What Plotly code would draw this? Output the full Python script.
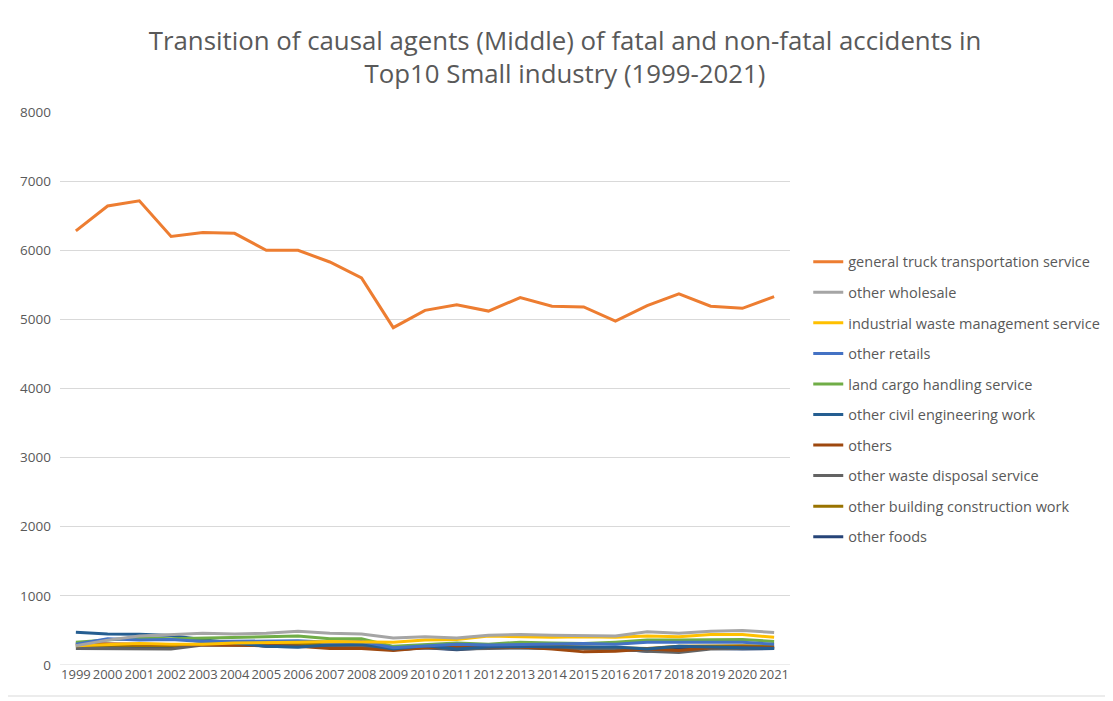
import plotly.graph_objects as go

years = list(range(1999, 2022))

general_truck = [6280, 6640, 6715, 6200, 6255, 6245, 6000, 6000, 5830, 5600, 4880, 5130,
                 5210, 5120, 5315, 5190, 5180, 4975, 5200, 5370, 5190, 5160, 5330]
other_wholesale = [280, 360, 420, 440, 460, 450, 460, 490, 460, 450, 390, 410,
                   390, 430, 440, 430, 430, 420, 480, 460, 490, 500, 470]
industrial_waste = [280, 300, 310, 300, 300, 320, 320, 330, 340, 340, 330, 360,
                    370, 420, 410, 400, 410, 400, 420, 410, 440, 440, 400]
other_retails = [300, 380, 360, 370, 340, 340, 340, 350, 330, 340, 250, 280,
                 300, 290, 300, 300, 310, 300, 330, 330, 330, 330, 300]
land_cargo = [330, 360, 395, 380, 390, 400, 400, 420, 380, 380, 270, 300,
              320, 300, 330, 320, 310, 330, 360, 360, 360, 370, 340]
civil_eng = [475, 450, 445, 425, 365, 315, 270, 260, 290, 300, 230, 280,
             230, 260, 270, 260, 260, 260, 230, 270, 260, 250, 240]
others = [310, 305, 300, 300, 300, 290, 280, 270, 240, 240, 210, 250,
          250, 250, 260, 230, 190, 200, 230, 210, 250, 260, 250]
waste_disposal = [240, 240, 240, 230, 290, 290, 280, 270, 260, 270, 220, 250,
                  230, 240, 250, 240, 240, 230, 200, 180, 230, 240, 250]
building_const = [290, 290, 290, 280, 300, 300, 310, 310, 290, 290, 230, 260,
                  250, 270, 280, 270, 260, 260, 240, 270, 280, 280, 270]
other_foods = [275, 275, 270, 265, 310, 320, 270, 260, 290, 300, 220, 250,
               220, 250, 250, 240, 230, 230, 200, 250, 240, 230, 240]

series = [
    ("general truck transportation service", general_truck, "#ED7D31"),
    ("other wholesale", other_wholesale, "#A5A5A5"),
    ("industrial waste management service", industrial_waste, "#FFC000"),
    ("other retails", other_retails, "#4472C4"),
    ("land cargo handling service", land_cargo, "#70AD47"),
    ("other civil engineering work", civil_eng, "#255E91"),
    ("others", others, "#9E480E"),
    ("other waste disposal service", waste_disposal, "#636363"),
    ("other building construction work", building_const, "#997300"),
    ("other foods", other_foods, "#264478"),
]

W, H = 1105, 693
L, T, R, B = 52, 104, 1105 - 782, 693 - 657

fig = go.Figure()
for i, (name, vals, color) in reversed(list(enumerate(series))):
    fig.add_trace(go.Scatter(
        x=years, y=vals, name=name, mode="lines",
        line=dict(color=color, width=3),
        legendgroup=f"g{i}", legendrank=i + 1,
    ))

fig.update_layout(
    width=W, height=H,
    paper_bgcolor="white", plot_bgcolor="white",
    margin=dict(l=L, r=R, t=T, b=B, autoexpand=False),
    font=dict(family="Open Sans, Noto Sans, sans-serif", color="#595959"),
    title=dict(
        text="Transition of causal agents (Middle) of fatal and non-fatal accidents in<br>Top10 Small industry (1999-2021)",
        x=557 / W, xanchor="center", xref="container", y=0.94, yanchor="top", yref="container",
        font=dict(size=25.8, color="#595959", family="Open Sans, sans-serif"),
    ),
    xaxis=dict(
        range=[1998.5, 2021.5], tickmode="array", tickvals=years,
        ticktext=[str(y) for y in years], tickangle=0, showgrid=False,
        showline=False, zeroline=False, ticks="",
        tickfont=dict(size=13, color="#595959", family="Open Sans, sans-serif"),
    ),
    yaxis=dict(
        range=[0, 8000], dtick=1000, showgrid=True, gridcolor="#D9D9D9", gridwidth=1,
        zeroline=False, showline=False, ticks="", ticklabelstandoff=8,
        tickfont=dict(size=13.5, color="#595959", family="Open Sans, sans-serif"),
    ),
    legend=dict(
        x=1.025, xanchor="left", y=0.758, yanchor="top",
        font=dict(size=14.5, color="#595959", family="Open Sans, sans-serif"),
        tracegroupgap=8.7, traceorder="grouped",
    ),
    showlegend=True,
)
fig.add_shape(type="line", xref="paper", yref="y", x0=0, x1=1, y0=0, y1=0,
              line=dict(color="#D9D9D9", width=1), layer="below")
pw, ph = 782 - 52, 657 - 104
fig.add_shape(type="rect", xref="paper", yref="paper",
              x0=(-3 - L) / pw, x1=(1102 - L) / pw,
              y0=(657 - 688) / ph, y1=(657 + 1) / ph,
              line=dict(color="#D9D9D9", width=1))

fig.write_html("out.html")
